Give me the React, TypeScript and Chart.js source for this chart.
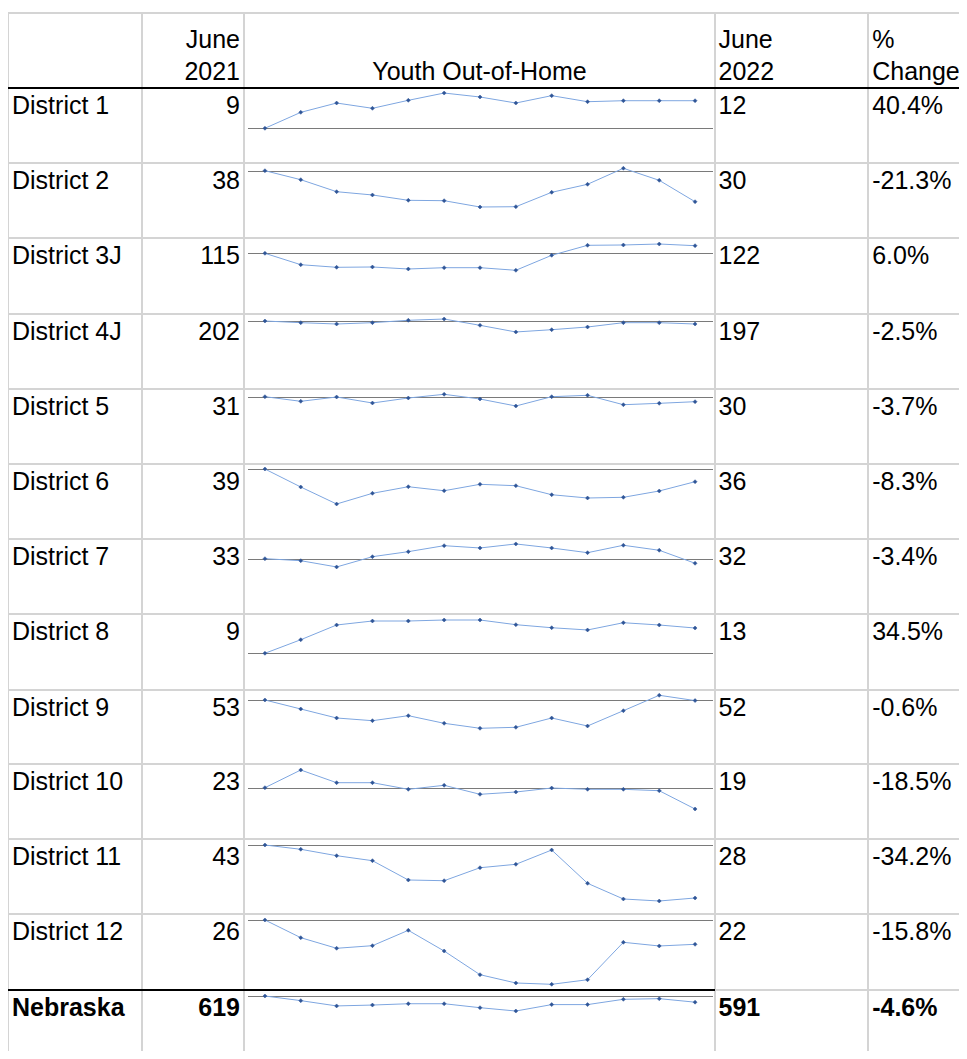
import React, { useEffect, useRef } from "react";
import { Chart, registerables } from "chart.js";

Chart.register(...registerables);

// ---------- DATA ----------
const months = [
  "Jun 2021", "Jul 2021", "Aug 2021", "Sep 2021", "Oct 2021", "Nov 2021", "Dec 2021",
  "Jan 2022", "Feb 2022", "Mar 2022", "Apr 2022", "May 2022", "Jun 2022",
];

const districts = [
  "District 1", "District 2", "District 3J", "District 4J", "District 5", "District 6",
  "District 7", "District 8", "District 9", "District 10", "District 11", "District 12", "Nebraska",
];

const june2021 = ["9", "38", "115", "202", "31", "39", "33", "9", "53", "23", "43", "26", "619"];
const june2022 = ["12", "30", "122", "197", "30", "36", "32", "13", "52", "19", "28", "22", "591"];
const pctChange = ["40.4%", "-21.3%", "6.0%", "-2.5%", "-3.7%", "-8.3%", "-3.4%", "34.5%", "-0.6%", "-18.5%", "-34.2%", "-15.8%", "-4.6%"];

const district1 = [8.8, 10.86, 12.06, 11.38, 12.41, 13.35, 12.84, 12.06, 13.01, 12.23, 12.36, 12.36, 12.36];
const district2 = [38, 35.65, 32.52, 31.66, 30.27, 30.17, 28.52, 28.6, 32.36, 34.45, 38.63, 35.49, 29.9];
const district3J = [115, 104.64, 102.27, 102.55, 100.73, 101.91, 101.91, 99.55, 113.18, 122.27, 122.55, 123.45, 121.91];
const district4J = [202, 199.2, 197, 199.2, 203.2, 205.3, 194.8, 183.7, 187.5, 192, 199.2, 199.2, 197];
const district5 = [31, 29.94, 30.93, 29.55, 30.7, 31.55, 30.47, 28.86, 31, 31.32, 29.16, 29.48, 29.85];
const district6 = [39, 34.41, 30.07, 32.8, 34.48, 33.46, 35.1, 34.74, 32.44, 31.6, 31.78, 33.39, 35.76];
const district7 = [33, 32.51, 30.98, 33.49, 34.71, 36.17, 35.61, 36.59, 35.61, 34.46, 36.27, 35.05, 31.88];
const district8 = [9.4, 11.14, 13.03, 13.54, 13.54, 13.67, 13.67, 13.07, 12.68, 12.39, 13.32, 13.03, 12.64];
const district9 = [52.6, 49.6, 46.6, 45.7, 47.37, 44.83, 43.17, 43.5, 46.6, 43.93, 49.03, 54.17, 52.4];
const district10 = [23, 26.54, 24, 24, 22.68, 23.48, 21.68, 22.14, 22.94, 22.68, 22.68, 22.4, 18.74];
const district11 = [43, 41.81, 40.03, 38.64, 33.28, 33.08, 36.69, 37.64, 41.61, 32.36, 28, 27.44, 28.28];
const district12 = [26, 23.02, 21.23, 21.67, 24.26, 20.77, 16.78, 15.38, 15.16, 15.93, 22.24, 21.62, 21.9];
const nebraska = [619, 598, 574, 578, 584, 584, 566, 551, 580, 580, 604, 607, 591];

const seriesList = [
  district1, district2, district3J, district4J, district5, district6, district7,
  district8, district9, district10, district11, district12, nebraska,
];

// vertical axis range of each sparkline
const axisMin = [4.32, 20.43, 59.82, 88.67, 15.53, 21.14, 19.51, 4.69, 31.27, 12.74, 23.83, 14.2, 333.9];
const axisMax = [14.0, 40.01, 128.91, 213.67, 32.77, 40.28, 37.8, 14.44, 55.93, 27.74, 44.67, 27.01, 646.1];

// ---------- LAYOUT ----------
const rowTops = [88, 163, 238, 314, 389, 464, 539, 614, 690, 764, 839, 914, 990];
const pageBottom = 1059;
const FONT = '"Liberation Sans", Arial, Helvetica, sans-serif';
const GRID = "#d4d4d4";
const SPARK_LEFT = 247;
const SPARK_WIDTH = 466;

const baselinePlugin = {
  id: "sparkBaseline",
  beforeDatasetsDraw(chart: any) {
    const { ctx, chartArea, scales } = chart;
    const v = chart.data.datasets[0].data[0] as number;
    const y = Math.round(scales.y.getPixelForValue(v)) + 0.5;
    ctx.save();
    ctx.strokeStyle = "#7a7a7a";
    ctx.lineWidth = 1;
    ctx.beginPath();
    ctx.moveTo(chartArea.left + 1, y);
    ctx.lineTo(chartArea.right, y);
    ctx.stroke();
    ctx.restore();
  },
};

function Sparkline(props: { values: number[]; min: number; max: number; top: number; height: number }) {
  const ref = useRef<HTMLCanvasElement>(null);
  const { values, min, max, top, height } = props;
  useEffect(() => {
    if (!ref.current) return;
    const chart = new Chart(ref.current, {
      type: "line",
      data: {
        labels: months,
        datasets: [
          {
            data: values,
            borderColor: "#7ea6e0",
            borderWidth: 1,
            tension: 0,
            pointStyle: "rectRot",
            pointRadius: 2,
            pointBackgroundColor: "#2f5597",
            pointBorderColor: "#2f5597",
            pointBorderWidth: 0.5,
            clip: false as any,
          },
        ],
      },
      options: {
        responsive: false,
        animation: false,
        events: [],
        layout: { padding: 0, autoPadding: false } as any,
        plugins: { legend: { display: false }, tooltip: { enabled: false } },
        scales: {
          x: { display: false, offset: true },
          y: { display: false, min, max },
        },
      },
      plugins: [baselinePlugin],
    });
    return () => chart.destroy();
  }, [values, min, max]);
  return (
    <canvas
      ref={ref}
      width={SPARK_WIDTH}
      height={height}
      style={{ position: "absolute", left: SPARK_LEFT, top, width: SPARK_WIDTH, height }}
    />
  );
}

const textBase: React.CSSProperties = {
  position: "absolute",
  fontFamily: FONT,
  fontSize: 25,
  lineHeight: "32px",
  color: "#000",
  whiteSpace: "nowrap",
};

function HLine(p: { top: number; left: number; right: number; color: string }) {
  return (
    <div style={{ position: "absolute", top: p.top, left: p.left, width: p.right - p.left, height: 2, background: p.color }} />
  );
}

function VLine(p: { left: number }) {
  return <div style={{ position: "absolute", left: p.left, top: 12, width: 2, height: pageBottom - 12, background: GRID }} />;
}

export default function App() {
  return (
    <div style={{ position: "relative", width: 959, height: 1043 }}>
      <style>{`html,body{overflow:hidden;background:#fff;}`}</style>
      <div style={{ position: "absolute", left: -8, top: -8, width: 967, height: 1059 }}>
        {/* grid */}
        {[7, 141, 243, 714, 867].map((x) => (
          <VLine key={"v" + x} left={x} />
        ))}
        <HLine top={12} left={7} right={967} color={GRID} />
        {rowTops.slice(1, 12).map((t) => (
          <HLine key={"h" + t} top={t - 1} left={7} right={967} color={GRID} />
        ))}
        <HLine top={989} left={715} right={967} color={GRID} />
        <HLine top={87} left={8} right={967} color="#000" />
        <HLine top={989} left={8} right={715} color="#000" />

        {/* header */}
        <div style={{ ...textBase, top: 23.3, right: 967 - 240, textAlign: "right" }}>
          June<br />2021
        </div>
        <div style={{ ...textBase, top: 55.3, left: 245, width: 469, textAlign: "center" }}>Youth Out-of-Home</div>
        <div style={{ ...textBase, top: 23.3, left: 718.5 }}>
          June<br />2022
        </div>
        <div style={{ ...textBase, top: 23.3, left: 872.2 }}>
          %<br />Change
        </div>

        {/* rows */}
        {districts.map((name, i) => {
          const top = rowTops[i];
          const bottom = i + 1 < rowTops.length ? rowTops[i + 1] : pageBottom;
          const bold = i === districts.length - 1;
          const fw = bold ? 700 : 400;
          const ty = top + (bold ? 1.3 : 0.6);
          return (
            <React.Fragment key={name}>
              <div style={{ ...textBase, top: ty, left: 12, fontWeight: fw }}>{name}</div>
              <div style={{ ...textBase, top: ty, right: 967 - 240, textAlign: "right", fontWeight: fw }}>{june2021[i]}</div>
              <div style={{ ...textBase, top: ty, left: 718.5, fontWeight: fw }}>{june2022[i]}</div>
              <div style={{ ...textBase, top: ty, left: 872.2, fontWeight: fw }}>{pctChange[i]}</div>
              <Sparkline values={seriesList[i]} min={axisMin[i]} max={axisMax[i]} top={top} height={bottom - top} />
            </React.Fragment>
          );
        })}
      </div>
    </div>
  );
}
